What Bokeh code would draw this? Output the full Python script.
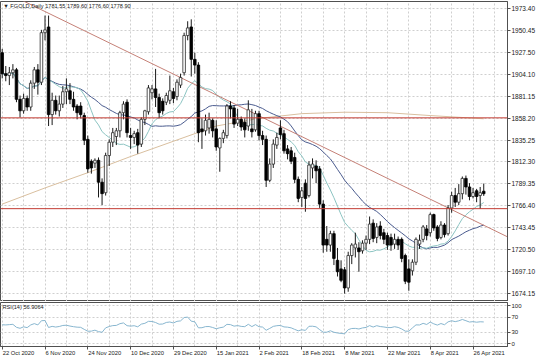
import numpy as np
from bokeh.plotting import figure
from bokeh.layouts import column
from bokeh.models import ColumnDataSource, FixedTicker, Span, Label, Range1d, LinearAxis
from bokeh.embed import file_html
from bokeh.resources import INLINE

# ---------------- data (FGOLD daily, 22 Oct 2020 - 29 Apr 2021) ----------------
opens = [1927, 1905, 1903, 1906, 1909, 1878, 1866, 1879, 1870, 1895, 1909, 1896, 1948, 1954,
         1862, 1877, 1866, 1873, 1886, 1887, 1878, 1871, 1871, 1861, 1836, 1813, 1811, 1814,
         1791, 1780, 1819, 1833, 1839, 1845, 1864, 1875, 1840, 1838, 1843, 1831, 1857, 1865,
         1885, 1889, 1880, 1876, 1875, 1877, 1886, 1881, 1893, 1906, 1945, 1954, 1920, 1914,
         1847, 1845, 1848, 1856, 1847, 1827, 1837, 1840, 1871, 1869, 1853, 1857, 1854, 1850,
         1847, 1846, 1863, 1840, 1836, 1793, 1810, 1830, 1848, 1842, 1826, 1824, 1817, 1794,
         1775, 1790, 1777, 1806, 1808, 1805, 1768, 1731, 1725, 1737, 1709, 1700, 1699, 1680,
         1714, 1722, 1722, 1719, 1727, 1731, 1748, 1733, 1745, 1738, 1735, 1733, 1726, 1731,
         1731, 1714, 1700, 1698, 1707, 1726, 1731, 1742, 1738, 1757, 1744, 1733, 1746, 1737,
         1764, 1777, 1770, 1779, 1795, 1786, 1776, 1782, 1777, 1781.55]
highs = [1931, 1913, 1912, 1915, 1911, 1882, 1884, 1882, 1898, 1912, 1915, 1951, 1966, 1966,
         1885, 1882, 1882, 1892, 1900, 1895, 1886, 1873, 1875, 1864, 1840, 1815, 1816, 1817,
         1795, 1822, 1836, 1848, 1848, 1866, 1876, 1878, 1848, 1845, 1847, 1859, 1867, 1893,
         1893, 1910, 1884, 1879, 1885, 1903, 1890, 1899, 1905, 1948, 1960, 1962, 1927, 1917,
         1858, 1862, 1864, 1858, 1856, 1838, 1846, 1873, 1876, 1872, 1868, 1860, 1858, 1877,
         1868, 1866, 1866, 1845, 1840, 1816, 1836, 1843, 1856, 1846, 1830, 1828, 1822, 1797,
         1786, 1794, 1813, 1816, 1814, 1808, 1772, 1745, 1740, 1740, 1722, 1709, 1702, 1718,
         1727, 1738, 1728, 1730, 1735, 1755, 1752, 1748, 1750, 1742, 1738, 1737, 1737, 1734,
         1733, 1716, 1710, 1710, 1733, 1736, 1746, 1746, 1759, 1758, 1746, 1750, 1748, 1767,
         1781, 1785, 1789, 1797, 1798, 1790, 1785, 1784, 1786, 1789.60]
lows = [1900, 1897, 1893, 1900, 1875, 1859, 1863, 1866, 1866, 1889, 1883, 1893, 1940, 1850,
        1851, 1862, 1860, 1869, 1873, 1873, 1866, 1857, 1858, 1830, 1801, 1800, 1806, 1775,
        1767, 1777, 1808, 1828, 1830, 1838, 1857, 1838, 1826, 1831, 1821, 1828, 1851, 1862,
        1878, 1870, 1858, 1862, 1872, 1873, 1874, 1877, 1890, 1903, 1940, 1902, 1905, 1833,
        1826, 1840, 1842, 1838, 1824, 1802, 1832, 1837, 1858, 1848, 1850, 1845, 1838, 1845,
        1838, 1844, 1835, 1830, 1786, 1791, 1806, 1826, 1836, 1821, 1815, 1810, 1790, 1770,
        1765, 1760, 1775, 1795, 1790, 1764, 1717, 1718, 1718, 1704, 1692, 1686, 1674, 1676,
        1705, 1712, 1697, 1716, 1720, 1726, 1728, 1727, 1731, 1726, 1720, 1719, 1721, 1720,
        1707, 1684, 1677, 1693, 1704, 1721, 1728, 1730, 1734, 1740, 1729, 1731, 1733, 1735,
        1759, 1765, 1767, 1773, 1778, 1772, 1774, 1770, 1763, 1776.60]
closes = [1905, 1903, 1906, 1909, 1878, 1866, 1879, 1870, 1895, 1909, 1896, 1948, 1951, 1862,
          1877, 1866, 1873, 1886, 1889, 1878, 1870, 1864, 1862, 1835, 1805, 1806, 1814, 1791,
          1779, 1819, 1833, 1843, 1845, 1864, 1873, 1843, 1838, 1842, 1830, 1857, 1866, 1890,
          1889, 1880, 1864, 1866, 1882, 1887, 1879, 1896, 1901, 1945, 1953, 1920, 1914, 1843,
          1844, 1856, 1857, 1845, 1828, 1837, 1843, 1871, 1868, 1852, 1857, 1849, 1846, 1867,
          1844, 1863, 1840, 1836, 1793, 1810, 1831, 1838, 1841, 1824, 1821, 1813, 1794, 1774,
          1782, 1774, 1809, 1810, 1803, 1768, 1725, 1725, 1737, 1711, 1697, 1688, 1680, 1714,
          1725, 1726, 1718, 1727, 1731, 1747, 1732, 1744, 1735, 1731, 1725, 1725, 1731, 1725,
          1711, 1687, 1686, 1707, 1731, 1730, 1744, 1735, 1757, 1743, 1732, 1746, 1736, 1764,
          1777, 1770, 1779, 1795, 1786, 1776, 1780, 1776, 1780, 1778.90]

# 200-period MA at sample bars
ma200_idx = [0, 12, 24, 36, 48, 60, 72, 84, 96, 108, 120, 135]
ma200_val = [1768, 1785, 1801, 1818, 1834, 1850, 1858, 1863, 1864.5, 1864, 1861, 1857.6]

# trend line anchors (bar index, price)
trend_idx = [13, 135]
trend_px = [1968.4, 1745.8]

hlines = [1858.58, 1763.22]
last_price = 1778.90

date_tick_idx = [0, 12, 24, 36, 48, 60, 72, 84, 96, 108, 120, 132]
date_labels = ["22 Oct 2020", "6 Nov 2020", "24 Nov 2020", "10 Dec 2020", "29 Dec 2020",
               "15 Jan 2021", "2 Feb 2021", "18 Feb 2021", "8 Mar 2021", "22 Mar 2021",
               "8 Apr 2021", "26 Apr 2021"]
price_ticks = [1973.40, 1950.45, 1927.50, 1904.10, 1881.15, 1858.20, 1835.25, 1812.30,
               1789.35, 1766.40, 1743.45, 1720.50, 1697.10, 1674.15]
rsi_ticks = [0, 30, 70, 100]

FAST, SLOW, RSI_N, RSI_SEED = 14, 30, 14, 8.0

# ---------------- derived ----------------
o = np.array(opens, float); h = np.array(highs, float)
l = np.array(lows, float); c = np.array(closes, float)
n = len(c)
idx = np.arange(n)

def sma(a, k):
    out = np.empty_like(a)
    for i in range(len(a)):
        out[i] = a[max(0, i - k + 1):i + 1].mean()
    return out

ma_fast = sma(c, FAST)
ma_slow = sma(c, SLOW)

ag = al = RSI_SEED
rsi = []
for i in range(n):
    if i > 0:
        d = c[i] - c[i - 1]
        ag = (ag * (RSI_N - 1) + max(d, 0)) / RSI_N
        al = (al * (RSI_N - 1) + max(-d, 0)) / RSI_N
    rsi.append(100 - 100 / (1 + ag / al))

up = c >= o
src_up = ColumnDataSource(dict(x=idx[up], top=c[up], bot=o[up]))
src_dn = ColumnDataSource(dict(x=idx[~up], top=o[~up], bot=c[~up]))
src_w = ColumnDataSource(dict(x=idx, h=h, l=l))

FONT = "Liberation Sans"
GRID = "#cfcfcf"
X0, X1 = -0.4766, 141.66
FRAME_W = 507
PX_PER_BAR = FRAME_W / (X1 - X0)

xr = Range1d(X0, X1)
p1 = figure(frame_width=FRAME_W, frame_height=300, x_range=xr, y_range=Range1d(1665.75, 1980.75),
            y_axis_location="right", toolbar_location=None, output_backend="svg",
            min_border_left=0, min_border_top=1, min_border_bottom=0, min_border_right=29)
p1.xaxis.visible = False
p1.background_fill_color = "white"
p1.outline_line_color = "#505050"

grid_idx = list(range(0, 142, 6))
p1.xgrid.ticker = FixedTicker(ticks=grid_idx)
p1.ygrid.ticker = FixedTicker(ticks=price_ticks)
for g in (p1.xgrid[0], p1.ygrid[0]):
    g.grid_line_color = GRID
    g.grid_line_dash = "2 2"

ya = p1.yaxis[0]
ya.ticker = FixedTicker(ticks=price_ticks)
ya.major_label_overrides = {t: f"{t:.2f}" for t in price_ticks}
ya.major_label_text_font = FONT
ya.major_label_text_font_size = "6.5px"
ya.major_label_text_color = "#202020"
ya.major_tick_out = 3
ya.major_tick_in = 0
ya.minor_tick_out = 0
ya.minor_tick_in = 0
ya.major_label_standoff = 1
ya.axis_line_color = "#505050"
ya.major_tick_line_color = "#505050"

# moving averages
p1.line(ma200_idx, ma200_val, line_color="#d9bf9f", line_width=1)
p1.line(idx, ma_slow, line_color="#4a5b8e", line_width=1)
p1.line(idx, ma_fast, line_color="#8cc4c2", line_width=1)

# trend line extended over the view
slope = (trend_px[1] - trend_px[0]) / (trend_idx[1] - trend_idx[0])
tx = [X0, X1]
ty = [trend_px[0] + slope * (v - trend_idx[0]) for v in tx]
p1.line(tx, ty, line_color="#c58077", line_width=1)

for hv in hlines:
    p1.add_layout(Span(location=hv, dimension="width", line_color="#c23b32", line_width=1))

# candles
p1.segment(x0="x", y0="l", x1="x", y1="h", source=src_w, line_color="#1a1a1a", line_width=1)
p1.vbar(x="x", width=0.72, top="top", bottom="bot", source=src_up,
        fill_color="white", line_color="#2a2a2a", line_width=0.8)
p1.vbar(x="x", width=0.72, top="top", bottom="bot", source=src_dn,
        fill_color="#000000", line_color="#000000", line_width=0.8)

p1.add_layout(Label(x=0.3, y=1979.2, text="\u25bc FGOLD,Daily  1781.55 1789.60 1776.60 1778.90",
                    text_font=FONT, text_font_size="5.6px", text_color="#202020",
                    text_baseline="top", text_align="left"))

for hv, bg, fg in [(hlines[0], "#e3281f", "white"), (hlines[1], "#e3281f", "white"),
                   (last_price, "#000000", "white")]:
    p1.add_layout(Label(x=509, x_units="screen", y=hv, text=f"{hv:.2f}",
                        text_font=FONT, text_font_size="6.5px", text_color=fg,
                        text_baseline="middle", text_align="left",
                        background_fill_color=bg, padding=1))

# ---------------- RSI panel ----------------
p2 = figure(frame_width=FRAME_W, frame_height=44, x_range=xr, y_range=Range1d(-6.5, 107.8),
            y_axis_location="right", toolbar_location=None, output_backend="svg",
            min_border_left=0, min_border_top=1, min_border_bottom=0, min_border_right=29)
p2.outline_line_color = "#505050"
p2.xgrid.ticker = FixedTicker(ticks=grid_idx)
p2.ygrid.ticker = FixedTicker(ticks=rsi_ticks)
for g in (p2.xgrid[0], p2.ygrid[0]):
    g.grid_line_color = GRID
    g.grid_line_dash = "2 2"

ry = p2.yaxis[0]
ry.ticker = FixedTicker(ticks=rsi_ticks)
ry.major_label_text_font = FONT
ry.major_label_text_font_size = "6px"
ry.major_label_text_color = "#202020"
ry.major_tick_out = 3
ry.major_tick_in = 0
ry.minor_tick_out = 0
ry.minor_tick_in = 0
ry.major_label_standoff = 1
ry.axis_line_color = "#505050"
ry.major_tick_line_color = "#505050"

# x axis 1: tick marks only
rx = p2.xaxis[0]
rx.ticker = FixedTicker(ticks=date_tick_idx)
rx.major_label_overrides = {t: "" for t in date_tick_idx}
rx.major_label_text_font_size = "1px"
rx.major_label_standoff = 0
rx.major_tick_out = 3
rx.major_tick_in = 0
rx.minor_tick_out = 0
rx.minor_tick_in = 0
rx.axis_line_color = "#505050"
rx.major_tick_line_color = "#505050"

# x axis 2: date texts, left-aligned at their ticks (MT4 style) -> centre shifted by half width
DATE_FS = 5.8
CW = {" ": .278, "O": .778, "N": .722, "D": .722, "J": .5, "F": .611, "M": .833, "A": .667,
      "c": .5, "t": .278, "o": .556, "v": .5, "e": .556, "a": .556, "n": .556, "b": .556,
      "r": .333, "p": .556}
def text_w(s):
    return sum(CW.get(ch, .556) for ch in s) * DATE_FS

lab_pos = [t + (text_w(s) / 2 + 0.5) / PX_PER_BAR for t, s in zip(date_tick_idx, date_labels)]
lax = LinearAxis(ticker=FixedTicker(ticks=lab_pos),
                 major_label_overrides={p: s for p, s in zip(lab_pos, date_labels)},
                 major_label_text_font=FONT, major_label_text_font_size=f"{DATE_FS}px",
                 major_label_text_color="#202020", major_label_standoff=0,
                 major_tick_out=0, major_tick_in=0, minor_tick_out=0, minor_tick_in=0,
                 axis_line_color=None)
p2.add_layout(lax, "below")

p2.line(idx, rsi, line_color="#88b6cf", line_width=1)
p2.add_layout(Label(x=0.1, y=104.5, text="RSI(14) 56.9064", text_font=FONT,
                    text_font_size="5.6px", text_color="#202020",
                    text_baseline="top", text_align="left"))

layout = column(p1, p2, spacing=0)
open("out.html", "w").write(file_html(layout, INLINE))
